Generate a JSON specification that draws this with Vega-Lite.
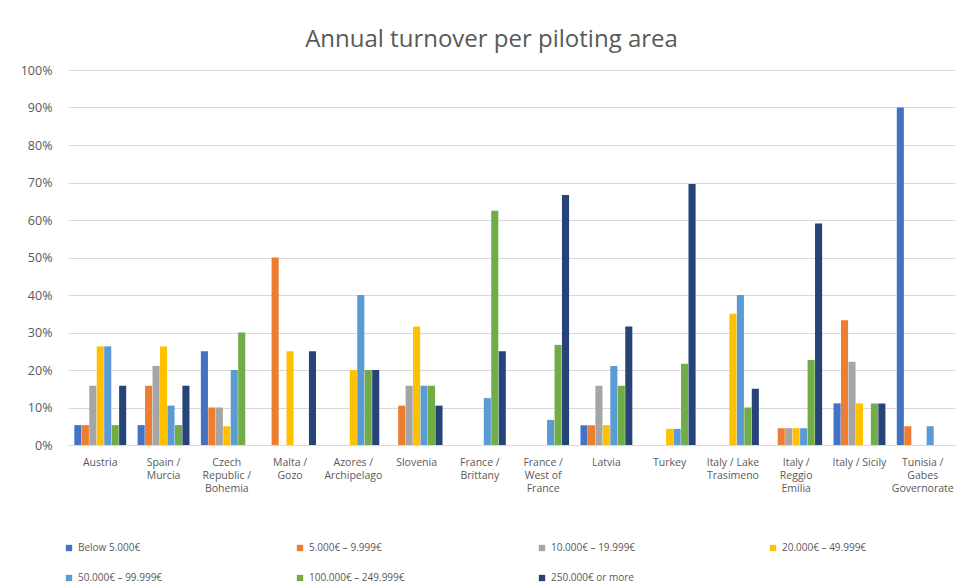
{
  "$schema": "https://vega.github.io/schema/vega-lite/v6.json",
  "autosize": "none",
  "width": 887,
  "height": 375,
  "padding": {"left": 68, "top": 70, "right": 5, "bottom": 142},
  "background": "white",
  "title": {"text": "Annual turnover per piloting area", "fontSize": 24, "font": "Open Sans", "fontWeight": "normal", "color": "#595959", "offset": 12, "anchor": "middle", "dx": -20},
  "config": {"view": {"stroke": null}, "font": "Open Sans"},
  "data": {"values": [
    {"area": "Austria", "turnover": "Below 5.000€", "pct": 5.3},
    {"area": "Austria", "turnover": "5.000€ – 9.999€", "pct": 5.3},
    {"area": "Austria", "turnover": "10.000€ – 19.999€", "pct": 15.8},
    {"area": "Austria", "turnover": "20.000€ – 49.999€", "pct": 26.3},
    {"area": "Austria", "turnover": "50.000€ – 99.999€", "pct": 26.3},
    {"area": "Austria", "turnover": "100.000€ – 249.999€", "pct": 5.3},
    {"area": "Austria", "turnover": "250.000€ or more", "pct": 15.8},
    {"area": "Spain / Murcia", "turnover": "Below 5.000€", "pct": 5.3},
    {"area": "Spain / Murcia", "turnover": "5.000€ – 9.999€", "pct": 15.8},
    {"area": "Spain / Murcia", "turnover": "10.000€ – 19.999€", "pct": 21.1},
    {"area": "Spain / Murcia", "turnover": "20.000€ – 49.999€", "pct": 26.3},
    {"area": "Spain / Murcia", "turnover": "50.000€ – 99.999€", "pct": 10.5},
    {"area": "Spain / Murcia", "turnover": "100.000€ – 249.999€", "pct": 5.3},
    {"area": "Spain / Murcia", "turnover": "250.000€ or more", "pct": 15.8},
    {"area": "Czech Republic / Bohemia", "turnover": "Below 5.000€", "pct": 25},
    {"area": "Czech Republic / Bohemia", "turnover": "5.000€ – 9.999€", "pct": 10},
    {"area": "Czech Republic / Bohemia", "turnover": "10.000€ – 19.999€", "pct": 10},
    {"area": "Czech Republic / Bohemia", "turnover": "20.000€ – 49.999€", "pct": 5},
    {"area": "Czech Republic / Bohemia", "turnover": "50.000€ – 99.999€", "pct": 20},
    {"area": "Czech Republic / Bohemia", "turnover": "100.000€ – 249.999€", "pct": 30},
    {"area": "Malta / Gozo", "turnover": "5.000€ – 9.999€", "pct": 50},
    {"area": "Malta / Gozo", "turnover": "20.000€ – 49.999€", "pct": 25},
    {"area": "Malta / Gozo", "turnover": "250.000€ or more", "pct": 25},
    {"area": "Azores / Archipelago", "turnover": "20.000€ – 49.999€", "pct": 20},
    {"area": "Azores / Archipelago", "turnover": "50.000€ – 99.999€", "pct": 40},
    {"area": "Azores / Archipelago", "turnover": "100.000€ – 249.999€", "pct": 20},
    {"area": "Azores / Archipelago", "turnover": "250.000€ or more", "pct": 20},
    {"area": "Slovenia", "turnover": "5.000€ – 9.999€", "pct": 10.5},
    {"area": "Slovenia", "turnover": "10.000€ – 19.999€", "pct": 15.8},
    {"area": "Slovenia", "turnover": "20.000€ – 49.999€", "pct": 31.6},
    {"area": "Slovenia", "turnover": "50.000€ – 99.999€", "pct": 15.8},
    {"area": "Slovenia", "turnover": "100.000€ – 249.999€", "pct": 15.8},
    {"area": "Slovenia", "turnover": "250.000€ or more", "pct": 10.5},
    {"area": "France / Brittany", "turnover": "50.000€ – 99.999€", "pct": 12.5},
    {"area": "France / Brittany", "turnover": "100.000€ – 249.999€", "pct": 62.5},
    {"area": "France / Brittany", "turnover": "250.000€ or more", "pct": 25},
    {"area": "France / West of France", "turnover": "50.000€ – 99.999€", "pct": 6.7},
    {"area": "France / West of France", "turnover": "100.000€ – 249.999€", "pct": 26.7},
    {"area": "France / West of France", "turnover": "250.000€ or more", "pct": 66.7},
    {"area": "Latvia", "turnover": "Below 5.000€", "pct": 5.3},
    {"area": "Latvia", "turnover": "5.000€ – 9.999€", "pct": 5.3},
    {"area": "Latvia", "turnover": "10.000€ – 19.999€", "pct": 15.8},
    {"area": "Latvia", "turnover": "20.000€ – 49.999€", "pct": 5.3},
    {"area": "Latvia", "turnover": "50.000€ – 99.999€", "pct": 21.1},
    {"area": "Latvia", "turnover": "100.000€ – 249.999€", "pct": 15.8},
    {"area": "Latvia", "turnover": "250.000€ or more", "pct": 31.6},
    {"area": "Turkey", "turnover": "20.000€ – 49.999€", "pct": 4.3},
    {"area": "Turkey", "turnover": "50.000€ – 99.999€", "pct": 4.3},
    {"area": "Turkey", "turnover": "100.000€ – 249.999€", "pct": 21.7},
    {"area": "Turkey", "turnover": "250.000€ or more", "pct": 69.6},
    {"area": "Italy / Lake Trasimeno", "turnover": "20.000€ – 49.999€", "pct": 35},
    {"area": "Italy / Lake Trasimeno", "turnover": "50.000€ – 99.999€", "pct": 40},
    {"area": "Italy / Lake Trasimeno", "turnover": "100.000€ – 249.999€", "pct": 10},
    {"area": "Italy / Lake Trasimeno", "turnover": "250.000€ or more", "pct": 15},
    {"area": "Italy / Reggio Emilia", "turnover": "5.000€ – 9.999€", "pct": 4.5},
    {"area": "Italy / Reggio Emilia", "turnover": "10.000€ – 19.999€", "pct": 4.5},
    {"area": "Italy / Reggio Emilia", "turnover": "20.000€ – 49.999€", "pct": 4.5},
    {"area": "Italy / Reggio Emilia", "turnover": "50.000€ – 99.999€", "pct": 4.5},
    {"area": "Italy / Reggio Emilia", "turnover": "100.000€ – 249.999€", "pct": 22.7},
    {"area": "Italy / Reggio Emilia", "turnover": "250.000€ or more", "pct": 59.1},
    {"area": "Italy / Sicily", "turnover": "Below 5.000€", "pct": 11.1},
    {"area": "Italy / Sicily", "turnover": "5.000€ – 9.999€", "pct": 33.3},
    {"area": "Italy / Sicily", "turnover": "10.000€ – 19.999€", "pct": 22.2},
    {"area": "Italy / Sicily", "turnover": "20.000€ – 49.999€", "pct": 11.1},
    {"area": "Italy / Sicily", "turnover": "100.000€ – 249.999€", "pct": 11.1},
    {"area": "Italy / Sicily", "turnover": "250.000€ or more", "pct": 11.1},
    {"area": "Tunisia / Gabes Governorate", "turnover": "Below 5.000€", "pct": 90},
    {"area": "Tunisia / Gabes Governorate", "turnover": "5.000€ – 9.999€", "pct": 5},
    {"area": "Tunisia / Gabes Governorate", "turnover": "50.000€ – 99.999€", "pct": 5}
  ]},
  "mark": {"type": "bar"},
  "encoding": {
    "x": {
      "field": "area", "type": "nominal", "sort": null,
      "scale": {"paddingInner": 0.18, "paddingOuter": 0.1},
      "axis": {
        "title": null, "labelAngle": 0, "ticks": false, "domainColor": "#D9D9D9",
        "labelFontSize": 10.5, "labelColor": "#595959", "labelPadding": 12, "labelLineHeight": 13,
        "labelExpr": "{'Spain / Murcia': ['Spain /', 'Murcia'], 'Czech Republic / Bohemia': ['Czech', 'Republic /', 'Bohemia'], 'Malta / Gozo': ['Malta /', 'Gozo'], 'Azores / Archipelago': ['Azores /', 'Archipelago'], 'France / Brittany': ['France /', 'Brittany'], 'France / West of France': ['France /', 'West of', 'France'], 'Italy / Lake Trasimeno': ['Italy / Lake', 'Trasimeno'], 'Italy / Reggio Emilia': ['Italy /', 'Reggio', 'Emilia'], 'Tunisia / Gabes Governorate': ['Tunisia /', 'Gabes', 'Governorate']}[datum.label] || datum.label"
      }
    },
    "xOffset": {
      "field": "turnover", "type": "nominal",
      "scale": {"domain": ["Below 5.000€", "5.000€ – 9.999€", "10.000€ – 19.999€", "20.000€ – 49.999€", "50.000€ – 99.999€", "100.000€ – 249.999€", "250.000€ or more"], "paddingInner": 0.05}
    },
    "y": {
      "field": "pct", "type": "quantitative",
      "scale": {"domain": [0, 100]},
      "axis": {
        "title": null, "values": [0, 10, 20, 30, 40, 50, 60, 70, 80, 90, 100],
        "labelExpr": "datum.value + '%'", "domain": false, "ticks": false,
        "gridColor": "#D9D9D9", "labelFontSize": 12.5, "labelColor": "#595959", "labelPadding": 16
      }
    },
    "color": {
      "field": "turnover", "type": "nominal",
      "scale": {
        "domain": ["Below 5.000€", "5.000€ – 9.999€", "10.000€ – 19.999€", "20.000€ – 49.999€", "50.000€ – 99.999€", "100.000€ – 249.999€", "250.000€ or more"],
        "range": ["#4472C4", "#ED7D31", "#A5A5A5", "#FFC000", "#5B9BD5", "#70AD47", "#264478"]
      },
      "legend": {
        "title": null, "orient": "none", "direction": "horizontal", "columns": 4,
        "legendX": -4, "legendY": 473, "symbolType": "square", "symbolSize": 40,
        "labelFontSize": 10, "labelColor": "#595959", "columnPadding": 132, "rowPadding": 20, "labelOffset": 4
      }
    }
  }
}
